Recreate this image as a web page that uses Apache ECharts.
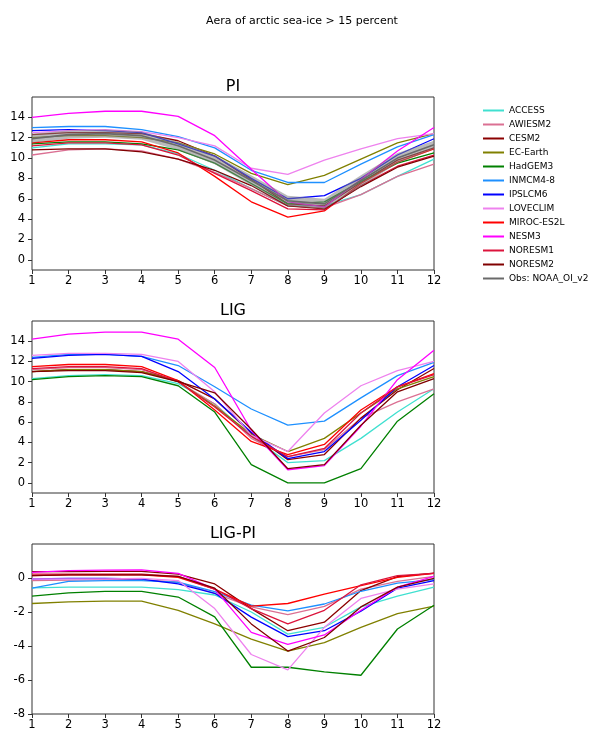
<!DOCTYPE html>
<html><head><meta charset="utf-8">
<script src="https://cdn.jsdelivr.net/npm/echarts@6/dist/echarts.min.js"></script>
<style>html,body{margin:0;padding:0;background:#fff}#c{width:592px;height:731px}</style>
</head><body><div id="c"></div>
<script>
// ---------- data ----------
const months = [1,2,3,4,5,6,7,8,9,10,11,12];
const modelNames = ['ACCESS','AWIESM2','CESM2','EC-Earth','HadGEM3','INMCM4-8','IPSLCM6','LOVECLIM','MIROC-ES2L','NESM3','NORESM1','NORESM2'];
const obsName = 'Obs: NOAA_OI_v2';
const yTicksAbs = [0,2,4,6,8,10,12,14];
const yTicksDiff = [-8,-6,-4,-2,0];

// PI
const pi_ACCESS   = [11.0,11.4,11.4,11.3,10.4,8.8,7.0,5.3,5.3,6.4,8.2,9.9];
const pi_AWIESM2  = [10.3,10.8,10.9,10.7,9.9,8.6,7.0,5.3,5.1,6.4,8.2,9.4];
const pi_CESM2    = [12.3,12.5,12.5,12.4,11.7,10.2,7.9,5.5,5.3,7.6,9.8,11.0];
const pi_ECEarth  = [12.0,12.2,12.2,12.0,11.5,10.4,8.5,7.4,8.3,9.9,11.5,12.4];
const pi_HadGEM3  = [11.4,11.6,11.6,11.4,10.8,9.5,7.5,5.5,5.7,7.7,9.5,10.5];
const pi_INMCM    = [13.0,13.1,13.1,12.8,12.1,11.0,8.8,7.6,7.6,9.4,11.1,12.3];
const pi_IPSL     = [12.7,12.8,12.7,12.5,11.4,10.2,8.0,6.0,6.3,8.0,10.3,11.9];
const pi_LOVECLIM = [12.5,12.7,12.8,12.6,12.0,11.2,9.0,8.4,9.8,10.9,11.9,12.4];
const pi_MIROC    = [11.5,11.8,11.8,11.6,10.5,8.2,5.7,4.2,4.8,7.5,9.6,10.9];
const pi_NESM3    = [14.0,14.4,14.6,14.6,14.1,12.2,8.9,5.7,5.2,7.9,10.7,13.0];
const pi_NORESM1  = [11.2,11.5,11.5,11.3,10.3,8.5,6.8,5.0,4.9,7.3,9.2,10.3];
const pi_NORESM2  = [10.8,10.9,10.9,10.6,9.9,8.8,7.3,5.3,5.0,7.2,9.1,10.2];
const pi_Obs      = [11.9,12.3,12.4,12.2,11.2,9.8,7.8,5.8,5.5,7.8,10.0,11.3];
const pi_ObsLow   = [11.5,11.9,12.0,11.8,10.8,9.4,7.3,5.3,5.0,7.2,9.5,10.9];
const pi_ObsHigh  = [12.4,12.7,12.8,12.6,11.6,10.3,8.3,6.3,6.0,8.3,10.5,11.7];

// LIG
const lig_ACCESS   = [10.3,10.6,10.7,10.6,9.8,7.8,4.6,2.0,2.2,4.4,7.0,9.3];
const lig_AWIESM2  = [11.2,11.4,11.4,11.2,10.0,7.8,4.4,2.6,3.3,6.4,8.0,9.3];
const lig_CESM2    = [11.0,11.2,11.2,11.0,10.1,8.3,4.9,2.3,2.8,6.4,9.2,11.3];
const lig_ECEarth  = [11.0,11.2,11.2,11.0,10.0,7.6,4.8,3.1,4.4,6.9,9.3,10.5];
const lig_HadGEM3  = [10.2,10.5,10.6,10.5,9.6,7.0,1.8,0.0,0.0,1.4,6.1,8.8];
const lig_INMCM    = [12.4,12.7,12.7,12.5,11.6,9.5,7.3,5.7,6.1,8.4,10.6,11.9];
const lig_IPSL     = [12.3,12.6,12.7,12.5,11.0,8.3,5.0,2.4,3.1,6.2,9.5,11.6];
const lig_LOVECLIM = [12.6,12.8,12.8,12.7,12.0,9.0,4.7,3.1,6.9,9.6,11.1,12.0];
const lig_MIROC    = [11.5,11.7,11.7,11.5,10.1,7.2,4.1,2.8,3.8,7.2,9.5,10.8];
const lig_NESM3    = [14.2,14.7,14.9,14.9,14.2,11.4,5.2,1.3,1.7,5.6,10.2,13.1];
const lig_NORESM1  = [11.3,11.5,11.5,11.3,10.0,7.5,4.6,2.6,3.4,6.9,9.5,10.7];
const lig_NORESM2  = [11.0,11.1,11.1,10.9,10.0,8.9,5.3,1.4,1.8,5.7,9.0,10.3];

// LIG-PI
const d_ACCESS   = [-0.58,-0.54,-0.54,-0.54,-0.68,-1.0,-2.0,-3.3,-2.9,-1.7,-1.07,-0.54];
const d_AWIESM2  = [-0.15,-0.12,-0.1,-0.1,-0.25,-0.9,-1.7,-2.15,-1.67,-0.65,-0.2,0.1];
const d_CESM2    = [0.37,0.37,0.39,0.39,0.23,-0.35,-1.8,-3.1,-2.6,-0.74,0.08,0.29];
const d_ECEarth  = [-1.5,-1.4,-1.36,-1.36,-1.9,-2.7,-3.6,-4.3,-3.8,-2.9,-2.1,-1.65];
const d_HadGEM3  = [-1.07,-0.87,-0.79,-0.79,-1.12,-2.29,-5.25,-5.25,-5.52,-5.72,-3.0,-1.6];
const d_INMCM    = [-0.6,-0.2,-0.16,-0.16,-0.25,-0.8,-1.6,-1.94,-1.53,-0.78,-0.3,-0.1];
const d_IPSL     = [-0.06,-0.02,-0.02,-0.06,-0.35,-0.9,-2.3,-3.45,-3.1,-1.95,-0.6,-0.15];
const d_LOVECLIM = [-0.06,-0.06,-0.06,-0.02,-0.15,-1.8,-4.5,-5.4,-2.9,-1.2,-0.65,-0.35];
const d_MIROC    = [0.14,0.18,0.2,0.18,0.04,-0.65,-1.65,-1.5,-0.95,-0.45,0.04,0.27];
const d_NESM3    = [0.33,0.43,0.46,0.48,0.27,-0.65,-3.2,-3.9,-3.35,-1.9,-0.54,0.1];
const d_NORESM1  = [0.23,0.23,0.23,0.23,0.1,-0.65,-1.8,-2.7,-1.9,-0.4,0.14,0.27];
const d_NORESM2  = [0.14,0.18,0.18,0.18,0.1,-0.6,-2.7,-4.3,-3.5,-1.7,-0.54,-0.02];

// ---------- styles ----------
const colors = ['#40E0D0','#DB7093','#8B0000','#808000','#008000','#1E90FF','#0000FF','#EE82EE','#FF0000','#FF00FF','#DC143C','#800000'];
const obsColor = '#6a6a6a';

const piSets  = [pi_ACCESS,pi_AWIESM2,pi_CESM2,pi_ECEarth,pi_HadGEM3,pi_INMCM,pi_IPSL,pi_LOVECLIM,pi_MIROC,pi_NESM3,pi_NORESM1,pi_NORESM2];
const ligSets = [lig_ACCESS,lig_AWIESM2,lig_CESM2,lig_ECEarth,lig_HadGEM3,lig_INMCM,lig_IPSL,lig_LOVECLIM,lig_MIROC,lig_NESM3,lig_NORESM1,lig_NORESM2];
const dSets   = [d_ACCESS,d_AWIESM2,d_CESM2,d_ECEarth,d_HadGEM3,d_INMCM,d_IPSL,d_LOVECLIM,d_MIROC,d_NESM3,d_NORESM1,d_NORESM2];

const FONT = 'DejaVu Sans';
const series = [];
function pairs(arr){ return months.map((m,j)=>[m, arr[j]]); }
function addModels(sets, g){
  modelNames.forEach((n,i)=>{
    series.push({name:n, type:'line', xAxisIndex:g, yAxisIndex:g, data:pairs(sets[i]),
      showSymbol:false, symbol:'none', lineStyle:{color:colors[i], width:1.3}, itemStyle:{color:colors[i]}, z:2});
  });
}
addModels(piSets,0);
// obs uncertainty band (single polygon through axis coordinates)
series.push({name:'obsBand', type:'custom', xAxisIndex:0, yAxisIndex:0, z:3, silent:true,
  data:[[months[0], pi_ObsLow[0]]],
  renderItem:function(params, api){
    const pts = [];
    months.forEach((m,j)=>pts.push(api.coord([m, pi_ObsHigh[j]])));
    for (let j=months.length-1;j>=0;j--) pts.push(api.coord([months[j], pi_ObsLow[j]]));
    return {type:'polygon', shape:{points:pts}, style:{fill:'rgba(128,128,128,0.55)', stroke:null}};
  }
});
series.push({name:obsName, type:'line', xAxisIndex:0, yAxisIndex:0, data:pairs(pi_Obs),
  showSymbol:false, symbol:'none', lineStyle:{color:obsColor, width:1.6}, itemStyle:{color:obsColor}, z:4});
addModels(ligSets,1);
addModels(dSets,2);

const grids = [
  {left:32, top:97, width:402, height:173},
  {left:32, top:321, width:402, height:172},
  {left:32, top:544, width:402, height:172}
].map(g=>Object.assign({show:true, borderColor:'#333', borderWidth:1, backgroundColor:'transparent'}, g));

function xAx(g){
  return {type:'value', gridIndex:g, min:1, max:12, interval:1,
    axisLine:{show:false, onZero:false}, splitLine:{show:false},
    axisTick:{show:true, inside:false, length:4, lineStyle:{color:'#333'}},
    axisLabel:{color:'#000', fontFamily:FONT, fontSize:11.5, margin:5}};
}
function yAx(g, min, max, ticks){
  return {type:'value', gridIndex:g, min:min, max:max,
    axisLine:{show:false, onZero:false}, splitLine:{show:false},
    axisTick:{show:true, inside:false, length:4, lineStyle:{color:'#333'}, customValues:ticks},
    axisLabel:{color:'#000', fontFamily:FONT, fontSize:11.5, margin:7, customValues:ticks}};
}

const option = {
  animation:false,
  backgroundColor:'#fff',
  grid:grids,
  xAxis:[xAx(0),xAx(1),xAx(2)],
  yAxis:[yAx(0,-1,16,yTicksAbs), yAx(1,-1,16,yTicksAbs), yAx(2,-8,2,yTicksDiff)],
  legend:{orient:'vertical', left:478, top:100, itemWidth:21, itemHeight:2, itemGap:3, icon:'rect',
    data:modelNames.concat([obsName]),
    textStyle:{fontFamily:FONT, fontSize:9, color:'#000', lineHeight:11}},
  graphic:[
    {type:'text', x:302, y:21, style:{text:'Aera of arctic sea-ice > 15 percent', align:'center', verticalAlign:'middle', fontFamily:FONT, fontSize:11, fill:'#000'}},
    {type:'text', x:233, y:87, style:{text:'PI', align:'center', verticalAlign:'middle', fontFamily:FONT, fontSize:16, fill:'#000'}},
    {type:'text', x:233, y:311, style:{text:'LIG', align:'center', verticalAlign:'middle', fontFamily:FONT, fontSize:16, fill:'#000'}},
    {type:'text', x:233, y:534, style:{text:'LIG-PI', align:'center', verticalAlign:'middle', fontFamily:FONT, fontSize:16, fill:'#000'}}
  ],
  series:series
};
const chart = echarts.init(document.getElementById('c'), null, {renderer:'canvas'});
chart.setOption(option);
</script></body></html>
